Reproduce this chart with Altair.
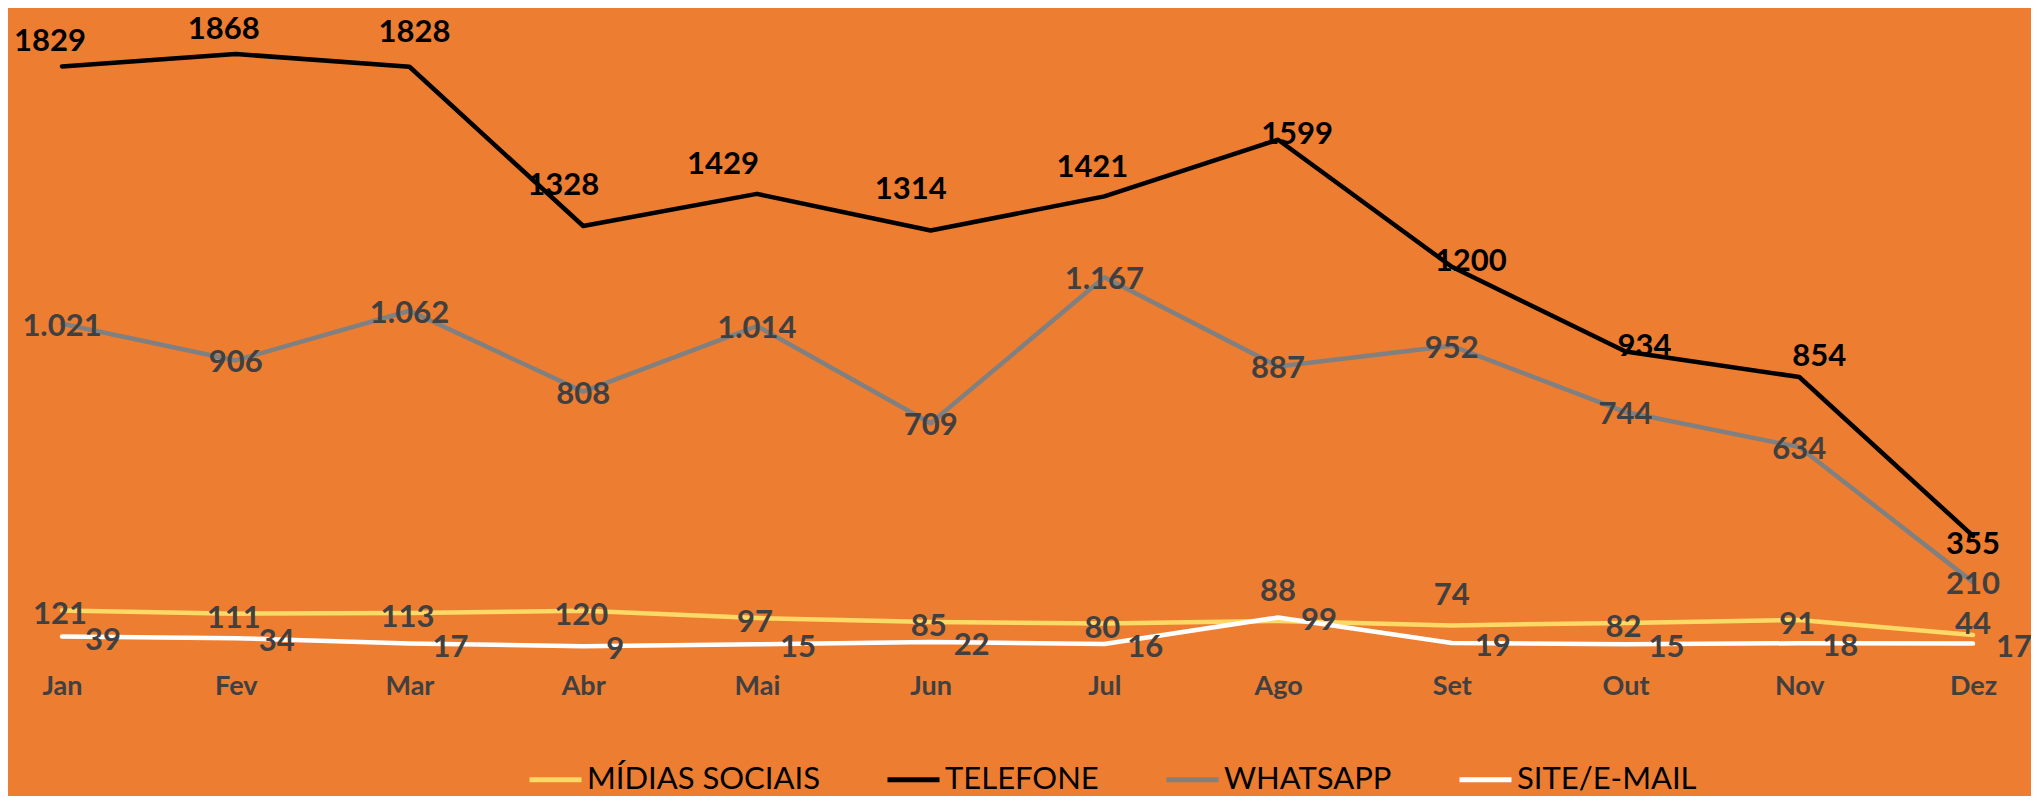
import altair as alt
import pandas as pd

months = ["Jan", "Fev", "Mar", "Abr", "Mai", "Jun", "Jul", "Ago", "Set", "Out", "Nov", "Dez"]
series_names = ["MÍDIAS SOCIAIS", "TELEFONE", "WHATSAPP", "SITE/E-MAIL"]
midias = [121, 111, 113, 120, 97, 85, 80, 88, 74, 82, 91, 44]
telefone = [1829, 1868, 1828, 1328, 1429, 1314, 1421, 1599, 1200, 934, 854, 355]
whatsapp = [1021, 906, 1062, 808, 1014, 709, 1167, 887, 952, 744, 634, 210]
site = [39, 34, 17, 9, 15, 22, 16, 99, 19, 15, 18, 17]

series_colors = ["#FFD966", "#000000", "#808080", "#FFFFFF"]

rows = []
for name, vals in zip(series_names, [midias, telefone, whatsapp, site]):
    for m, v in zip(months, vals):
        rows.append({"mes": m, "serie": name, "valor": v})
df = pd.DataFrame(rows)

FONT = "Lato"

x = alt.X(
    "mes:N",
    sort=months,
    scale=alt.Scale(type="point", padding=0.311),
    axis=alt.Axis(
        title=None, labelAngle=0, domain=False, ticks=False, grid=False,
        labelPadding=24, labelFont=FONT, labelFontWeight="bold",
        labelFontSize=27, labelColor="#404040",
    ),
)
y = alt.Y("valor:Q", scale=alt.Scale(domain=[0, 2000], nice=False, zero=True), axis=None)

color = alt.Color(
    "serie:N",
    scale=alt.Scale(domain=series_names, range=series_colors),
    legend=alt.Legend(
        title=None, orient="none", legendX=519, legendY=739, direction="horizontal",
        symbolType="stroke", symbolSize=2704, symbolStrokeWidth=5,
        labelFont=FONT, labelFontSize=31, labelColor="#000000", labelLimit=0,
        labelOffset=3, columnPadding=57, padding=0,
    ),
)

base = alt.Chart(df)


def line_layer(name):
    return base.transform_filter(alt.datum.serie == name).mark_line(
        strokeWidth=4.5, strokeCap="round", strokeJoin="round"
    ).encode(x=x, y=y, color=color)


def in_months(lst):
    return "indexof(" + str(lst) + ", datum.mes) >= 0"


def label_layer(name, month_list, color_txt, **kw):
    ch = base.transform_filter(alt.datum.serie == name)
    if month_list is not None:
        ch = ch.transform_filter(in_months(month_list))
    return ch.mark_text(
        font=FONT, fontWeight="bold", fontSize=31, color=color_txt, baseline="middle", **kw
    ).encode(x=x, y=y, text="valor:Q")


lines = [line_layer("WHATSAPP"), line_layer("TELEFONE"), line_layer("MÍDIAS SOCIAIS"), line_layer("SITE/E-MAIL")]

tel_a = label_layer("TELEFONE", ["Jan", "Fev"], "#000000", dx=-12, dy=-24)
tel_j = label_layer("TELEFONE", ["Jul"], "#000000", dx=-12, dy=-28)
tel_m = label_layer("TELEFONE", ["Mai"], "#000000", dx=-34, dy=-29)
tel_a2 = label_layer("TELEFONE", ["Abr", "Jun"], "#000000", dx=-20, dy=-40)
tel_mar = label_layer("TELEFONE", ["Mar"], "#000000", dx=5, dy=-34)
tel_b = label_layer("TELEFONE", ["Ago", "Set", "Out"], "#000000", dx=19, dy=-5)
tel_n = label_layer("TELEFONE", ["Nov"], "#000000", dx=20, dy=-20)
tel_c = label_layer("TELEFONE", ["Dez"], "#000000", dy=9)

wa = base.transform_filter(alt.datum.serie == "WHATSAPP").transform_calculate(
    rotulo="replace(format(datum.valor, ','), ',', '.')"
).mark_text(
    font=FONT, fontWeight="bold", fontSize=31, color="#404040", baseline="middle", dy=3
).encode(x=x, y=y, text="rotulo:N")

mid_a = label_layer("MÍDIAS SOCIAIS", ["Jan", "Fev", "Mar", "Abr", "Mai", "Jun", "Jul", "Out", "Nov"], "#404040", dx=-2, dy=5)
mid_b = label_layer("MÍDIAS SOCIAIS", ["Ago", "Set"], "#404040", dy=-29)
mid_c = label_layer("MÍDIAS SOCIAIS", ["Dez"], "#404040", dy=-10)

site_lbl = label_layer("SITE/E-MAIL", None, "#404040", align="left", dx=23, dy=4)

chart = alt.layer(
    *lines, tel_a, tel_j, tel_m, tel_a2, tel_mar, tel_b, tel_n, tel_c, wa, mid_a, mid_b, mid_c, site_lbl
).properties(
    width=2019, height=637,
    background="#ED7D31",
    padding={"left": 0, "top": 4, "right": 4, "bottom": 147},
    autosize=alt.AutoSizeParams(type="none"),
).configure_view(stroke=None)

chart.save("out.html", embed_options={"renderer": "svg", "actions": False})
